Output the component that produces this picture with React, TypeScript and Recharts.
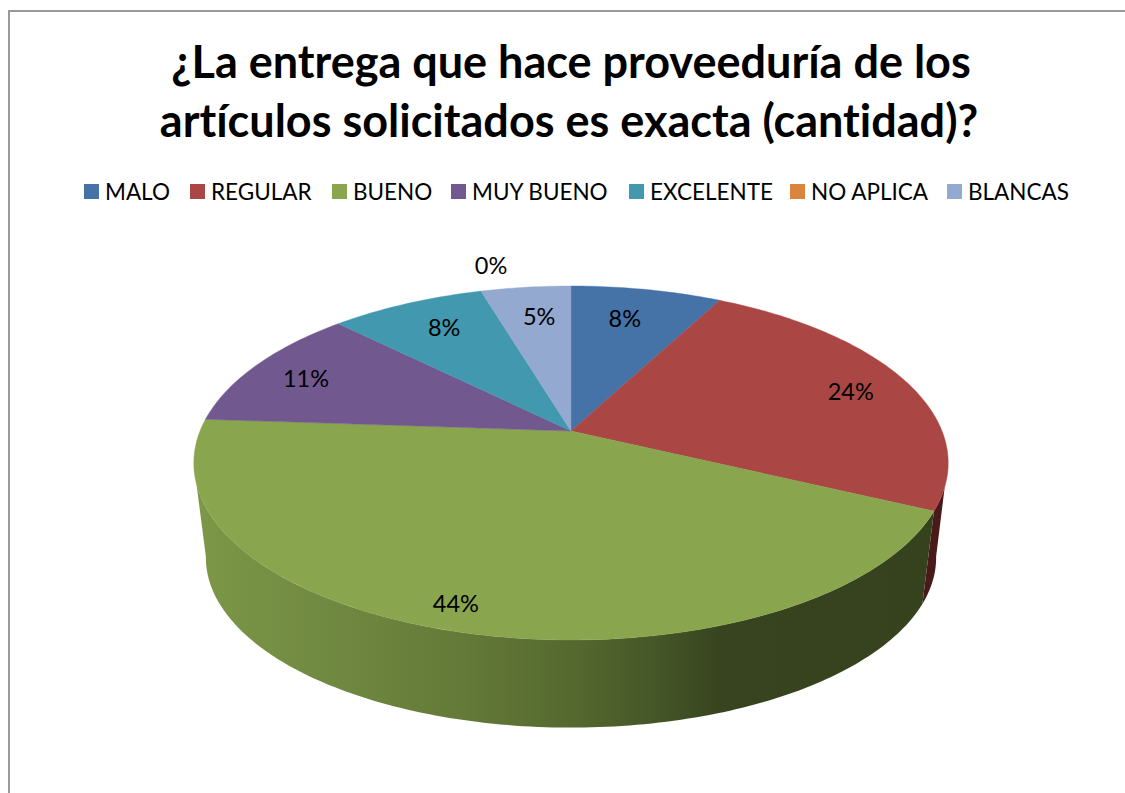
import React from "react";
import { PieChart, Pie, Cell, Legend } from "recharts";

const titleLines = ["¿La entrega que hace proveeduría de los", "artículos solicitados es exacta (cantidad)?"];
const categories = ["MALO", "REGULAR", "BUENO", "MUY BUENO", "EXCELENTE", "NO APLICA", "BLANCAS"];
const shares = [7.7, 24.4, 44, 11.4, 7.9, 0, 4.6];
const colors = ["#4572A7", "#AA4643", "#89A54E", "#71588F", "#4198AF", "#DB843D", "#93A9CF"];
const wallColors = ["#233a55", "#4a1a1a", "url(#buenoWall)", "#39294a", "#204c58", "#6e421e", "#4a5468"];
const labelRadii = [0.77, 0.825, 0.89, 0.825, 0.78, 1.2, 0.77];
const labelTurns = [-1.5, 1, 2.4, -1, 1.3, 4, 1];
const legendX = [84, 190, 332, 451, 629, 790, 947];

const rows = categories.map((name, i) => ({ name, value: shares[i] }));

const FONT = "Lato, Carlito, sans-serif";
const TILT = 0.1807; // perspective strength
const SQUASH = 0.4615; // minor / major axis of the top face
const LOW_SCALE = 0.968; // lower rim relative to the top rim
const LOW_DROP = 96; // shift of the lower rim's centre
const LOW_SQUASH = 0.443;

const project = (cx: number, cy: number, a: number, b: number, deg: number, r = 1) => {
  const t = (deg * Math.PI) / 180;
  const X = r * Math.sin(t);
  const Y = r * Math.cos(t);
  const d = 1 + TILT * Y;
  return [cx + (a * X) / d, cy - (b * Y) / d];
};

const arc = (cx: number, cy: number, a: number, b: number, from: number, to: number) => {
  const n = Math.max(2, Math.ceil(Math.abs(to - from)));
  const pts: number[][] = [];
  for (let i = 0; i <= n; i++) pts.push(project(cx, cy, a, b, from + ((to - from) * i) / n));
  return pts;
};

const toD = (pts: number[][]) => pts.map((p, i) => `${i ? "L" : "M"}${p[0].toFixed(2)},${p[1].toFixed(2)}`).join(" ");

const Slice3D = (props: any) => {
  const { cx, cy, outerRadius, startAngle, endAngle, index } = props;
  const a = outerRadius;
  const b = a * SQUASH;
  const from = 90 - startAngle;
  const to = 90 - endAngle;
  if (to - from < 0.01) return <g />;
  const top = arc(cx, cy, a, b, from, to);
  const lowA = a * LOW_SCALE;
  const lowB = a * LOW_SQUASH;
  const topFrom = Math.max(from, 108);
  const topTo = Math.min(to, 253);
  const lowFrom = from <= 108 ? Math.max(from, 100) : from;
  const lowTo = to >= 253 ? Math.min(to, 260) : to;
  let wall = null;
  if (topTo > topFrom && lowTo > lowFrom) {
    const upper = arc(cx, cy, a, b, topFrom, topTo);
    const lower = arc(cx, cy + LOW_DROP, lowA, lowB, lowFrom, lowTo).reverse();
    wall = <path d={toD([...upper, ...lower]) + " Z"} fill={wallColors[index]} />;
  }
  return (
    <g>
      <defs>
        <linearGradient id="buenoWall" gradientUnits="userSpaceOnUse" x1={cx - a} x2={cx + a} y1={0} y2={0}>
          <stop offset="0" stopColor="#7c9746" />
          <stop offset="0.15" stopColor="#728b42" />
          <stop offset="0.35" stopColor="#647a38" />
          <stop offset="0.5" stopColor="#55692f" />
          <stop offset="0.62" stopColor="#445527" />
          <stop offset="0.7" stopColor="#38441f" />
          <stop offset="1" stopColor="#36421d" />
        </linearGradient>
      </defs>
      {wall}
      <path d={`${toD([[cx, cy], ...top])} Z`} fill={colors[index]} stroke={colors[index]} strokeWidth={0.4} />
    </g>
  );
};

const SliceLabel = (props: any) => {
  const { cx, cy, outerRadius, midAngle, percent, index } = props;
  const [x, y] = project(cx, cy, outerRadius, outerRadius * SQUASH, 90 - midAngle + labelTurns[index], labelRadii[index]);
  return (
    <text x={x} y={y} textAnchor="middle" dominantBaseline="central" fontFamily={FONT} fontSize={23.5} fill="#000">
      {`${Math.round(percent * 100)}%`}
    </text>
  );
};

const LegendRow = ({ payload }: any) => (
  <div style={{ position: "relative", height: 30, width: 1125 }}>
    {(payload || []).map((item: any, i: number) => (
      <div key={item.value} style={{ position: "absolute", left: legendX[i], top: -1, display: "flex", alignItems: "center", height: 30, whiteSpace: "nowrap" }}>
        <span style={{ width: 15, height: 15, background: colors[i], display: "inline-block", marginRight: 6 }} />
        <span style={{ fontFamily: FONT, fontSize: 22.5, color: "#000" }}>{item.value}</span>
      </div>
    ))}
  </div>
);

const titleStyle = { fontVariantLigatures: "none" } as React.CSSProperties;

export default function App() {
  return (
    <div style={{ position: "absolute", left: 0, top: 0, width: 1125, height: 793, overflow: "hidden", background: "#fff" }}>
      <div style={{ position: "absolute", left: 8, top: 10, right: 0, bottom: 0, borderLeft: "2px solid #999", borderTop: "2px solid #999" }} />
      <PieChart width={1125} height={793} margin={{ top: 0, right: 0, bottom: 0, left: 0 }} style={{ position: "absolute", left: 0, top: 0 }}>
        <text x={571} y={78} textAnchor="middle" fontFamily={FONT} fontWeight={700} fontSize={45} fill="#000" style={titleStyle}>{titleLines[0]}</text>
        <text x={569} y={137} textAnchor="middle" fontFamily={FONT} fontWeight={700} fontSize={45} fill="#000" style={titleStyle}>{titleLines[1]}</text>
        <Legend content={<LegendRow />} verticalAlign="top" itemSorter={null as any} wrapperStyle={{ position: "absolute", left: 0, top: 177, width: 1125 }} />
        <Pie
          data={rows}
          dataKey="value"
          nameKey="name"
          cx={571}
          cy={401}
          outerRadius={371}
          startAngle={90}
          endAngle={-270}
          paddingAngle={0}
          stroke="none"
          isAnimationActive={false}
          shape={Slice3D}
          label={SliceLabel}
          labelLine={false}
        >
          {categories.map((c, i) => (
            <Cell key={c} fill={colors[i]} />
          ))}
        </Pie>
      </PieChart>
    </div>
  );
}
